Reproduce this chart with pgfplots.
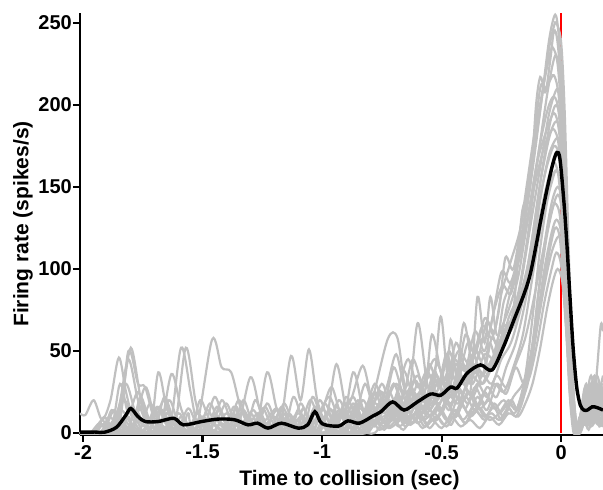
\documentclass[border=0pt]{standalone}
\usepackage{fontspec}
\setmainfont{Liberation Sans}
\usepackage{pgfplots}
\pgfplotsset{compat=1.18}
\definecolor{tr}{RGB}{192,192,192}
\tikzset{gr/.style={tr, line width=2.2pt, smooth}}
\begin{document}
\begin{tikzpicture}
\begin{axis}[
  scale only axis, width=523pt, height=422pt,
  xmin=-2.0125, xmax=0.175, ymin=-1.2, ymax=256,
  axis lines=left, axis line style={line width=2.6pt,-},
  xtick={-2,-1.5,-1,-0.5,0}, xticklabels={-2,-1.5,-1,-0.5,0},
  ytick={0,50,100,150,200,250}, yticklabels={0,50,100,150,200,250},
  tick align=outside, major tick length=7pt,
  tick style={line width=2.2pt,black},
  ticklabel style={font=\bfseries\fontsize{20}{24}\selectfont},
  xticklabel style={inner sep=0pt, yshift=-3pt},
  yticklabel style={inner sep=0pt, xshift=-1pt},
  xlabel={Time to collision (sec)}, ylabel={Firing rate (spikes/s)},
  label style={font=\bfseries\fontsize{21}{25}\selectfont, inner sep=0pt},
  xlabel style={at={([xshift=8pt,yshift=-35pt]axis description cs:0.5,0)}, anchor=north},
  ylabel style={at={([xshift=-47pt]axis description cs:0,0.5)}, anchor=south},
  no markers,
]
\addplot[red, line width=1.4pt] coordinates {(0,0)(0,256)};
% T1
\addplot[gr] coordinates {(-2.013,0)(-1.88,0)(-1.84,18)(-1.80,52)(-1.76,22)(-1.73,6)(-1.70,15)(-1.66,2)(-1.58,0)(-1.50,10)(-1.46,2)(-1.38,0)(-1.33,14)(-1.28,2)(-1.18,0)(-1.10,12)(-1.06,2)(-0.99,0)(-0.94,9)(-0.90,18)(-0.86,6)(-0.80,14)(-0.75,25)(-0.70,12)(-0.64,30)(-0.60,22)(-0.55,35)(-0.50,30)(-0.45,45)(-0.40,38)(-0.35,55)(-0.30,62)(-0.25,98)(-0.21,92)(-0.16,122)(-0.12,160)(-0.08,205)(-0.05,240)(-0.025,255)(-0.01,242)(0.008,200)(0.024,120)(0.045,40)(0.065,4)(0.085,6)(0.11,22)(0.14,10)(0.175,18)};
% T2
\addplot[gr] coordinates {(-2.013,12)(-1.99,11)(-1.955,20)(-1.92,8)(-1.885,20)(-1.85,46)(-1.82,25)(-1.79,10)(-1.75,16)(-1.71,4)(-1.65,0)(-1.60,12)(-1.56,3)(-1.50,0)(-1.44,8)(-1.40,18)(-1.36,5)(-1.30,0)(-1.22,0)(-1.17,16)(-1.13,6)(-1.08,0)(-1.02,10)(-0.97,22)(-0.93,10)(-0.88,20)(-0.83,41)(-0.79,20)(-0.74,18)(-0.69,30)(-0.64,18)(-0.58,28)(-0.53,45)(-0.48,32)(-0.43,50)(-0.38,42)(-0.33,65)(-0.29,58)(-0.26,75)(-0.233,107)(-0.20,100)(-0.165,130)(-0.13,165)(-0.11,185)(-0.085,212)(-0.065,208)(-0.045,228)(-0.03,245)(-0.015,238)(0.005,200)(0.02,130)(0.04,50)(0.06,8)(0.08,10)(0.10,28)(0.13,14)(0.16,30)(0.175,25)};
% T3
\addplot[gr] coordinates {(-2.013,0)(-1.86,0)(-1.81,50)(-1.77,30)(-1.74,28)(-1.70,8)(-1.64,0)(-1.59,52)(-1.55,25)(-1.52,5)(-1.46,0)(-1.40,12)(-1.36,2)(-1.28,0)(-1.23,37)(-1.19,15)(-1.15,3)(-1.08,0)(-1.03,16)(-0.99,4)(-0.92,0)(-0.87,37)(-0.83,15)(-0.79,5)(-0.73,20)(-0.68,10)(-0.62,25)(-0.57,15)(-0.51,32)(-0.46,22)(-0.41,40)(-0.37,30)(-0.32,48)(-0.27,45)(-0.22,70)(-0.18,85)(-0.14,120)(-0.10,165)(-0.06,205)(-0.035,225)(-0.02,230)(0.0,215)(0.015,170)(0.032,90)(0.05,25)(0.065,3)(0.085,12)(0.11,5)(0.135,28)(0.16,10)(0.175,6)};
% T4
\addplot[gr] coordinates {(-2.013,0)(-1.93,0)(-1.89,10)(-1.85,3)(-1.80,0)(-1.75,0)(-1.70,12)(-1.66,3)(-1.60,0)(-1.53,0)(-1.46,57)(-1.42,40)(-1.38,37)(-1.34,15)(-1.30,4)(-1.24,0)(-1.18,0)(-1.13,47)(-1.09,20)(-1.055,51)(-1.02,20)(-0.98,5)(-0.92,0)(-0.86,12)(-0.82,4)(-0.76,10)(-0.72,25)(-0.68,12)(-0.63,8)(-0.58,20)(-0.53,12)(-0.48,25)(-0.43,18)(-0.38,35)(-0.33,30)(-0.28,48)(-0.24,62)(-0.20,75)(-0.164,134)(-0.13,150)(-0.105,200)(-0.0875,217)(-0.07,210)(-0.05,214)(-0.03,218)(-0.01,205)(0.01,160)(0.028,80)(0.048,15)(0.065,0)(0.085,4)(0.11,18)(0.14,35)(0.165,15)(0.175,12)};
% T5
\addplot[gr] coordinates {(-2.013,0)(-1.95,0)(-1.91,6)(-1.87,0)(-1.80,0)(-1.76,22)(-1.72,8)(-1.68,16)(-1.64,4)(-1.58,0)(-1.52,0)(-1.47,18)(-1.43,6)(-1.36,0)(-1.30,34)(-1.26,14)(-1.22,3)(-1.15,0)(-1.10,0)(-1.05,20)(-1.01,8)(-0.96,14)(-0.92,4)(-0.86,0)(-0.80,15)(-0.726,57)(-0.685,58)(-0.65,25)(-0.61,15)(-0.56,28)(-0.51,18)(-0.46,35)(-0.41,25)(-0.36,40)(-0.31,35)(-0.26,55)(-0.22,60)(-0.17,90)(-0.13,125)(-0.09,160)(-0.05,195)(-0.015,210)(0.005,195)(0.02,140)(0.04,50)(0.06,6)(0.08,2)(0.105,15)(0.13,6)(0.155,22)(0.175,10)};
% T6
\addplot[gr] coordinates {(-2.013,0)(-1.90,0)(-1.85,16)(-1.81,45)(-1.77,20)(-1.73,5)(-1.68,0)(-1.63,36)(-1.59,15)(-1.55,3)(-1.48,0)(-1.42,0)(-1.38,12)(-1.34,3)(-1.27,0)(-1.20,10)(-1.16,2)(-1.10,0)(-1.04,0)(-1.00,15)(-0.96,4)(-0.90,0)(-0.85,18)(-0.80,8)(-0.74,22)(-0.69,12)(-0.64,18)(-0.60,67)(-0.56,30)(-0.52,20)(-0.47,30)(-0.42,20)(-0.37,42)(-0.33,30)(-0.29,40)(-0.25,55)(-0.20,65)(-0.16,85)(-0.12,120)(-0.08,160)(-0.045,190)(-0.02,200)(0.0,185)(0.018,130)(0.036,55)(0.055,8)(0.075,0)(0.095,8)(0.12,30)(0.145,12)(0.175,4)};
% T7
\addplot[gr] coordinates {(-2.013,0)(-1.96,0)(-1.92,8)(-1.88,0)(-1.80,0)(-1.74,28)(-1.70,10)(-1.66,20)(-1.62,5)(-1.56,0)(-1.50,0)(-1.45,22)(-1.41,8)(-1.35,0)(-1.28,0)(-1.23,18)(-1.19,5)(-1.13,0)(-1.07,0)(-1.02,8)(-0.98,10)(-0.94,42)(-0.90,15)(-0.86,5)(-0.80,12)(-0.75,30)(-0.71,15)(-0.66,22)(-0.62,10)(-0.57,25)(-0.54,60)(-0.50,35)(-0.46,25)(-0.42,45)(-0.38,30)(-0.34,50)(-0.30,40)(-0.26,60)(-0.22,75)(-0.18,95)(-0.14,130)(-0.10,165)(-0.06,185)(-0.03,195)(-0.01,185)(0.01,150)(0.028,85)(0.046,25)(0.062,2)(0.08,6)(0.10,20)(0.125,8)(0.15,25)(0.175,30)};
% T8
\addplot[gr] coordinates {(-2.013,0)(-1.89,0)(-1.845,30)(-1.81,12)(-1.77,25)(-1.73,8)(-1.68,0)(-1.62,0)(-1.57,52)(-1.53,20)(-1.50,6)(-1.44,0)(-1.38,0)(-1.33,20)(-1.29,6)(-1.22,0)(-1.16,0)(-1.12,22)(-1.08,8)(-1.02,0)(-0.96,0)(-0.92,14)(-0.88,5)(-0.83,20)(-0.79,10)(-0.74,16)(-0.70,30)(-0.66,18)(-0.62,25)(-0.57,15)(-0.52,30)(-0.48,20)(-0.44,32)(-0.407,67)(-0.37,40)(-0.33,35)(-0.29,45)(-0.25,50)(-0.21,65)(-0.17,80)(-0.13,110)(-0.09,150)(-0.05,180)(-0.02,190)(0.0,178)(0.02,120)(0.04,45)(0.058,5)(0.075,0)(0.095,14)(0.115,5)(0.14,22)(0.165,65)(0.175,62)};
% T9
\addplot[gr] coordinates {(-2.013,0)(-1.92,0)(-1.88,14)(-1.84,4)(-1.78,0)(-1.72,0)(-1.685,37)(-1.65,15)(-1.61,4)(-1.55,0)(-1.49,0)(-1.44,16)(-1.40,5)(-1.33,0)(-1.27,12)(-1.23,3)(-1.16,0)(-1.13,0)(-1.09,18)(-1.05,6)(-0.99,0)(-0.93,20)(-0.89,8)(-0.84,15)(-0.79,5)(-0.74,18)(-0.70,8)(-0.65,25)(-0.61,15)(-0.54,22)(-0.504,71)(-0.47,30)(-0.41,30)(-0.37,22)(-0.33,35)(-0.29,30)(-0.25,45)(-0.21,55)(-0.17,75)(-0.13,100)(-0.09,140)(-0.05,170)(-0.01,180)(0.01,160)(0.028,100)(0.048,30)(0.065,4)(0.085,14)(0.105,30)(0.13,12)(0.155,5)(0.175,12)};
% T10
\addplot[gr] coordinates {(-2.013,0)(-1.90,0)(-1.86,10)(-1.82,30)(-1.78,12)(-1.74,4)(-1.69,16)(-1.65,5)(-1.58,0)(-1.52,0)(-1.48,14)(-1.44,4)(-1.38,0)(-1.32,0)(-1.28,20)(-1.24,8)(-1.19,15)(-1.15,4)(-1.08,0)(-1.02,0)(-0.98,12)(-0.94,4)(-0.88,0)(-0.83,10)(-0.78,25)(-0.74,12)(-0.69,20)(-0.64,10)(-0.59,22)(-0.55,14)(-0.50,25)(-0.46,18)(-0.42,35)(-0.38,25)(-0.35,83)(-0.32,55)(-0.296,83)(-0.27,60)(-0.24,65)(-0.20,70)(-0.16,90)(-0.12,115)(-0.08,150)(-0.045,170)(-0.025,175)(-0.005,165)(0.015,115)(0.035,45)(0.055,5)(0.075,2)(0.09,10)(0.115,25)(0.14,8)(0.175,14)};
% T11
\addplot[gr] coordinates {(-2.013,0)(-1.88,0)(-1.83,20)(-1.79,8)(-1.75,0)(-1.70,0)(-1.66,22)(-1.62,8)(-1.56,0)(-1.50,0)(-1.45,10)(-1.41,3)(-1.35,0)(-1.30,0)(-1.25,15)(-1.21,4)(-1.15,0)(-1.08,0)(-1.04,22)(-1.00,8)(-0.95,0)(-0.90,0)(-0.86,14)(-0.82,4)(-0.76,18)(-0.72,8)(-0.67,14)(-0.63,5)(-0.58,15)(-0.53,8)(-0.48,18)(-0.44,10)(-0.39,25)(-0.35,15)(-0.31,28)(-0.27,22)(-0.23,40)(-0.19,55)(-0.15,80)(-0.11,115)(-0.07,145)(-0.035,165)(-0.015,170)(0.005,155)(0.022,105)(0.04,40)(0.058,4)(0.075,0)(0.095,6)(0.12,20)(0.15,35)(0.175,18)};
% T12
\addplot[gr] coordinates {(-2.013,0)(-1.97,0)(-1.93,6)(-1.89,0)(-1.82,0)(-1.78,14)(-1.74,4)(-1.67,0)(-1.63,10)(-1.59,3)(-1.52,0)(-1.47,0)(-1.42,20)(-1.38,8)(-1.34,14)(-1.30,3)(-1.24,0)(-1.18,0)(-1.14,12)(-1.10,4)(-1.04,0)(-0.99,18)(-0.95,6)(-0.89,0)(-0.84,8)(-0.80,20)(-0.76,10)(-0.70,15)(-0.66,38)(-0.62,22)(-0.58,12)(-0.53,20)(-0.49,15)(-0.4625,57)(-0.43,25)(-0.40,15)(-0.36,28)(-0.32,18)(-0.28,30)(-0.24,25)(-0.20,40)(-0.16,60)(-0.12,95)(-0.08,130)(-0.05,155)(-0.03,165)(-0.01,155)(0.01,115)(0.03,50)(0.05,8)(0.07,0)(0.09,12)(0.11,4)(0.135,20)(0.16,8)(0.175,10)};
% T13
\addplot[gr] coordinates {(-2.013,0)(-1.91,0)(-1.87,8)(-1.83,0)(-1.77,0)(-1.72,18)(-1.68,6)(-1.61,0)(-1.55,0)(-1.51,20)(-1.47,8)(-1.41,0)(-1.36,0)(-1.31,10)(-1.27,2)(-1.20,0)(-1.16,18)(-1.12,6)(-1.06,0)(-1.01,0)(-0.97,15)(-0.93,5)(-0.87,0)(-0.82,12)(-0.78,4)(-0.72,20)(-0.68,10)(-0.63,28)(-0.59,15)(-0.54,22)(-0.50,12)(-0.46,28)(-0.42,18)(-0.38,25)(-0.34,15)(-0.30,20)(-0.26,12)(-0.22,18)(-0.185,15)(-0.15,35)(-0.12,70)(-0.09,110)(-0.06,140)(-0.035,155)(-0.02,160)(0.0,150)(0.02,105)(0.04,40)(0.058,3)(0.078,8)(0.10,25)(0.125,10)(0.15,15)(0.175,28)};
% T14
\addplot[gr] coordinates {(-2.013,0)(-1.90,0)(-1.86,12)(-1.82,4)(-1.76,0)(-1.71,0)(-1.67,14)(-1.63,4)(-1.57,0)(-1.52,12)(-1.48,3)(-1.41,0)(-1.37,16)(-1.33,5)(-1.27,0)(-1.21,0)(-1.17,10)(-1.13,3)(-1.07,0)(-1.03,12)(-0.99,3)(-0.93,0)(-0.88,16)(-0.84,6)(-0.78,10)(-0.74,4)(-0.69,16)(-0.65,6)(-0.60,20)(-0.56,10)(-0.51,16)(-0.47,8)(-0.43,22)(-0.39,12)(-0.35,22)(-0.31,14)(-0.27,30)(-0.23,24)(-0.19,40)(-0.155,30)(-0.125,45)(-0.10,80)(-0.07,115)(-0.04,140)(-0.015,150)(0.005,140)(0.022,95)(0.04,35)(0.058,2)(0.08,0)(0.10,10)(0.125,30)(0.15,12)(0.175,5)};
% T15
\addplot[gr] coordinates {(-2.013,0)(-1.92,0)(-1.88,5)(-1.84,14)(-1.80,6)(-1.75,0)(-1.69,0)(-1.64,20)(-1.60,6)(-1.54,0)(-1.48,0)(-1.43,14)(-1.39,4)(-1.33,0)(-1.28,0)(-1.24,16)(-1.20,5)(-1.14,0)(-1.09,10)(-1.05,2)(-0.98,0)(-0.93,14)(-0.89,4)(-0.83,0)(-0.78,14)(-0.74,6)(-0.69,12)(-0.65,4)(-0.60,14)(-0.56,6)(-0.52,16)(-0.48,8)(-0.44,14)(-0.40,6)(-0.36,18)(-0.32,10)(-0.28,16)(-0.25,8)(-0.21,20)(-0.18,14)(-0.15,30)(-0.12,55)(-0.09,90)(-0.06,120)(-0.03,140)(-0.01,145)(0.008,130)(0.025,85)(0.042,30)(0.06,2)(0.08,6)(0.10,18)(0.12,8)(0.145,25)(0.175,14)};
% T16
\addplot[gr] coordinates {(-2.013,0)(-1.81,0)(-1.77,10)(-1.73,2)(-1.66,0)(-1.61,0)(-1.56,15)(-1.52,4)(-1.46,0)(-1.40,0)(-1.35,20)(-1.31,7)(-1.25,0)(-1.19,14)(-1.15,4)(-1.10,0)(-1.06,0)(-1.01,20)(-0.97,6)(-0.91,0)(-0.86,10)(-0.82,3)(-0.77,14)(-0.73,20)(-0.69,8)(-0.64,14)(-0.60,6)(-0.55,14)(-0.51,24)(-0.47,14)(-0.43,26)(-0.39,18)(-0.35,30)(-0.31,22)(-0.27,35)(-0.23,28)(-0.19,42)(-0.15,58)(-0.11,85)(-0.07,115)(-0.04,135)(-0.025,140)(-0.005,132)(0.015,95)(0.035,35)(0.055,2)(0.075,4)(0.095,22)(0.12,10)(0.15,20)(0.175,35)};
% T17
\addplot[gr] coordinates {(-2.013,0)(-1.89,0)(-1.85,10)(-1.81,3)(-1.74,0)(-1.69,0)(-1.65,12)(-1.61,3)(-1.55,0)(-1.49,0)(-1.45,12)(-1.41,3)(-1.35,0)(-1.29,14)(-1.25,4)(-1.19,0)(-1.14,0)(-1.10,14)(-1.06,4)(-1.00,0)(-0.95,0)(-0.91,12)(-0.87,3)(-0.81,0)(-0.76,10)(-0.72,3)(-0.66,10)(-0.62,18)(-0.58,8)(-0.53,12)(-0.49,5)(-0.45,14)(-0.41,8)(-0.37,15)(-0.33,10)(-0.29,12)(-0.26,8)(-0.22,15)(-0.19,10)(-0.16,20)(-0.13,40)(-0.10,70)(-0.07,100)(-0.04,122)(-0.02,130)(0.0,122)(0.02,85)(0.038,30)(0.056,2)(0.075,0)(0.09,8)(0.11,20)(0.135,6)(0.16,14)(0.175,8)};
% T18
\addplot[gr] coordinates {(-2.013,0)(-1.82,0)(-1.78,8)(-1.74,0)(-1.63,0)(-1.59,10)(-1.55,2)(-1.48,0)(-1.42,0)(-1.38,10)(-1.34,2)(-1.28,0)(-1.22,0)(-1.18,12)(-1.14,3)(-1.08,0)(-1.03,0)(-0.99,10)(-0.95,2)(-0.89,0)(-0.84,0)(-0.80,10)(-0.76,2)(-0.70,8)(-0.66,2)(-0.61,12)(-0.57,4)(-0.52,10)(-0.48,4)(-0.44,12)(-0.40,6)(-0.36,14)(-0.32,8)(-0.28,18)(-0.24,10)(-0.20,22)(-0.16,30)(-0.13,45)(-0.10,65)(-0.07,90)(-0.04,110)(-0.01,120)(0.01,110)(0.028,70)(0.046,20)(0.062,0)(0.08,3)(0.10,12)(0.125,4)(0.15,10)(0.175,20)};
% T19
\addplot[gr] coordinates {(-2.013,0)(-1.93,0)(-1.89,6)(-1.85,0)(-1.76,0)(-1.71,10)(-1.67,2)(-1.60,0)(-1.54,0)(-1.50,8)(-1.46,2)(-1.40,0)(-1.34,0)(-1.30,12)(-1.26,3)(-1.20,0)(-1.15,0)(-1.11,8)(-1.07,2)(-1.00,0)(-0.96,0)(-0.92,12)(-0.88,3)(-0.82,0)(-0.78,8)(-0.74,2)(-0.68,14)(-0.64,5)(-0.59,10)(-0.55,3)(-0.50,12)(-0.46,5)(-0.42,18)(-0.38,10)(-0.34,15)(-0.30,8)(-0.26,12)(-0.22,20)(-0.19,14)(-0.16,25)(-0.13,35)(-0.10,55)(-0.07,80)(-0.04,100)(-0.02,110)(0.0,102)(0.02,68)(0.04,20)(0.058,0)(0.075,2)(0.095,10)(0.12,28)(0.145,10)(0.175,4)};
% T20
\addplot[gr] coordinates {(-2.013,0)(-1.87,0)(-1.83,8)(-1.79,2)(-1.73,0)(-1.67,0)(-1.62,8)(-1.58,2)(-1.52,0)(-1.46,0)(-1.42,6)(-1.38,0)(-1.32,0)(-1.27,8)(-1.23,2)(-1.17,0)(-1.12,0)(-1.08,10)(-1.04,2)(-0.98,0)(-0.92,0)(-0.88,8)(-0.84,2)(-0.78,0)(-0.72,12)(-0.68,4)(-0.62,10)(-0.58,3)(-0.54,8)(-0.50,3)(-0.46,10)(-0.42,4)(-0.38,8)(-0.34,3)(-0.30,10)(-0.26,5)(-0.22,12)(-0.18,10)(-0.15,18)(-0.12,30)(-0.09,50)(-0.06,75)(-0.035,92)(-0.015,100)(0.005,92)(0.022,60)(0.04,18)(0.056,0)(0.075,0)(0.095,8)(0.115,2)(0.14,12)(0.175,6)};
% T21
\addplot[gr] coordinates {(-2.013,0)(-1.78,0)(-1.74,12)(-1.70,3)(-1.55,0)(-1.51,8)(-1.47,0)(-1.25,0)(-1.21,10)(-1.17,2)(-1.05,0)(-1.0,14)(-0.96,28)(-0.92,12)(-0.87,22)(-0.83,10)(-0.78,30)(-0.74,18)(-0.70,40)(-0.66,25)(-0.62,45)(-0.58,30)(-0.55,42)(-0.51,28)(-0.47,50)(-0.43,35)(-0.39,55)(-0.35,45)(-0.31,68)(-0.27,55)(-0.24,80)(-0.20,95)(-0.16,115)(-0.12,145)(-0.08,170)(-0.05,182)(-0.03,185)(-0.01,175)(0.01,135)(0.028,75)(0.046,18)(0.062,0)(0.08,8)(0.1,24)(0.125,12)(0.15,28)(0.175,16)};
% T22
\addplot[gr] coordinates {(-2.013,0)(-1.92,0)(-1.87,14)(-1.83,4)(-1.70,0)(-1.66,10)(-1.62,0)(-1.40,0)(-1.36,16)(-1.32,5)(-1.12,0)(-1.08,15)(-1.04,3)(-0.95,0)(-0.90,22)(-0.86,12)(-0.82,30)(-0.78,15)(-0.73,28)(-0.69,48)(-0.65,25)(-0.60,35)(-0.56,20)(-0.52,42)(-0.48,30)(-0.44,55)(-0.40,40)(-0.36,62)(-0.32,50)(-0.28,75)(-0.245,90)(-0.21,85)(-0.17,110)(-0.13,140)(-0.09,175)(-0.055,198)(-0.03,205)(-0.01,195)(0.01,150)(0.03,70)(0.05,12)(0.068,0)(0.09,18)(0.11,8)(0.14,30)(0.175,22)};
% T23
\addplot[gr] coordinates {(-2.013,0)(-1.95,0)(-1.91,10)(-1.87,2)(-1.68,0)(-1.64,6)(-1.60,0)(-1.35,0)(-1.31,8)(-1.27,0)(-1.0,0)(-0.96,10)(-0.92,3)(-0.87,18)(-0.83,8)(-0.78,24)(-0.74,14)(-0.70,30)(-0.66,16)(-0.61,32)(-0.57,20)(-0.53,38)(-0.49,22)(-0.45,40)(-0.41,30)(-0.37,48)(-0.33,35)(-0.30,55)(-0.27,45)(-0.23,62)(-0.19,70)(-0.15,90)(-0.11,115)(-0.07,140)(-0.04,155)(-0.02,160)(0.0,150)(0.02,100)(0.04,35)(0.058,2)(0.078,10)(0.1,5)(0.12,22)(0.15,8)(0.175,25)};
% T24
\addplot[gr] coordinates {(-2.013,0)(-1.85,0)(-1.81,10)(-1.77,0)(-1.60,0)(-1.56,12)(-1.52,2)(-1.20,0)(-1.16,12)(-1.12,2)(-0.98,0)(-0.94,16)(-0.90,6)(-0.85,20)(-0.81,10)(-0.76,26)(-0.72,12)(-0.68,28)(-0.64,45)(-0.60,28)(-0.56,38)(-0.52,25)(-0.48,48)(-0.44,32)(-0.40,60)(-0.36,48)(-0.32,70)(-0.28,62)(-0.25,85)(-0.21,105)(-0.17,125)(-0.13,160)(-0.10,190)(-0.07,215)(-0.045,232)(-0.035,235)(-0.015,225)(0.005,185)(0.022,115)(0.042,35)(0.06,3)(0.08,5)(0.1,16)(0.125,35)(0.15,15)(0.175,10)};
% T25
\addplot[gr] coordinates {(-2.013,0)(-1.75,0)(-1.71,6)(-1.67,0)(-1.30,0)(-1.26,6)(-1.22,0)(-0.9,0)(-0.86,8)(-0.82,2)(-0.76,10)(-0.72,4)(-0.66,12)(-0.62,6)(-0.56,16)(-0.52,8)(-0.48,20)(-0.44,10)(-0.40,22)(-0.36,14)(-0.32,25)(-0.28,15)(-0.24,20)(-0.20,12)(-0.17,18)(-0.14,30)(-0.11,55)(-0.08,85)(-0.05,110)(-0.025,125)(-0.005,118)(0.015,80)(0.035,25)(0.052,0)(0.07,4)(0.09,15)(0.11,6)(0.135,14)(0.16,4)(0.175,8)};
% T26
\addplot[gr] coordinates {(-2.013,0)(-1.62,0)(-1.58,8)(-1.54,0)(-1.10,0)(-1.06,10)(-1.02,0)(-0.82,0)(-0.78,15)(-0.74,6)(-0.69,22)(-0.65,10)(-0.60,30)(-0.56,18)(-0.52,35)(-0.48,20)(-0.44,42)(-0.40,30)(-0.36,50)(-0.32,40)(-0.29,58)(-0.26,52)(-0.23,75)(-0.19,100)(-0.15,135)(-0.11,175)(-0.08,205)(-0.05,235)(-0.03,248)(-0.02,250)(0.0,238)(0.015,195)(0.032,110)(0.05,30)(0.068,2)(0.09,6)(0.11,20)(0.135,10)(0.16,24)(0.175,18)};
% mean
\addplot[black, line width=3.4pt, smooth] coordinates {(-2.013,0.5)(-1.95,0.6)(-1.91,0.5)(-1.86,3.5)(-1.82,11)(-1.80,15)(-1.77,10)(-1.74,7)(-1.685,7)(-1.62,9)(-1.58,5)(-1.504,7)(-1.435,8.5)(-1.366,8.1)(-1.31,5)(-1.27,6)(-1.226,3)(-1.17,6)(-1.10,3)(-1.06,5)(-1.03,13)(-1.0,5.7)(-0.932,4.2)(-0.892,7.4)(-0.844,6)(-0.787,10.4)(-0.754,13)(-0.705,19)(-0.657,14)(-0.601,19)(-0.546,23.8)(-0.504,23)(-0.4625,28)(-0.435,27.4)(-0.393,36.5)(-0.3375,41.5)(-0.289,38.4)(-0.24,53)(-0.2,68)(-0.157,84)(-0.129,97)(-0.1,118)(-0.0875,128)(-0.06,148)(-0.035,164)(-0.018,171)(-0.005,167)(0.012,140)(0.024,115)(0.036,85)(0.05,52)(0.065,28)(0.08,17)(0.095,14)(0.11,14)(0.13,16)(0.15,15.5)(0.175,14)};
\end{axis}
\pgfresetboundingbox
\path ([xshift=-80pt,yshift=-55pt]current axis.south west) rectangle ([yshift=13pt]current axis.north east);
\end{tikzpicture}
\end{document}
